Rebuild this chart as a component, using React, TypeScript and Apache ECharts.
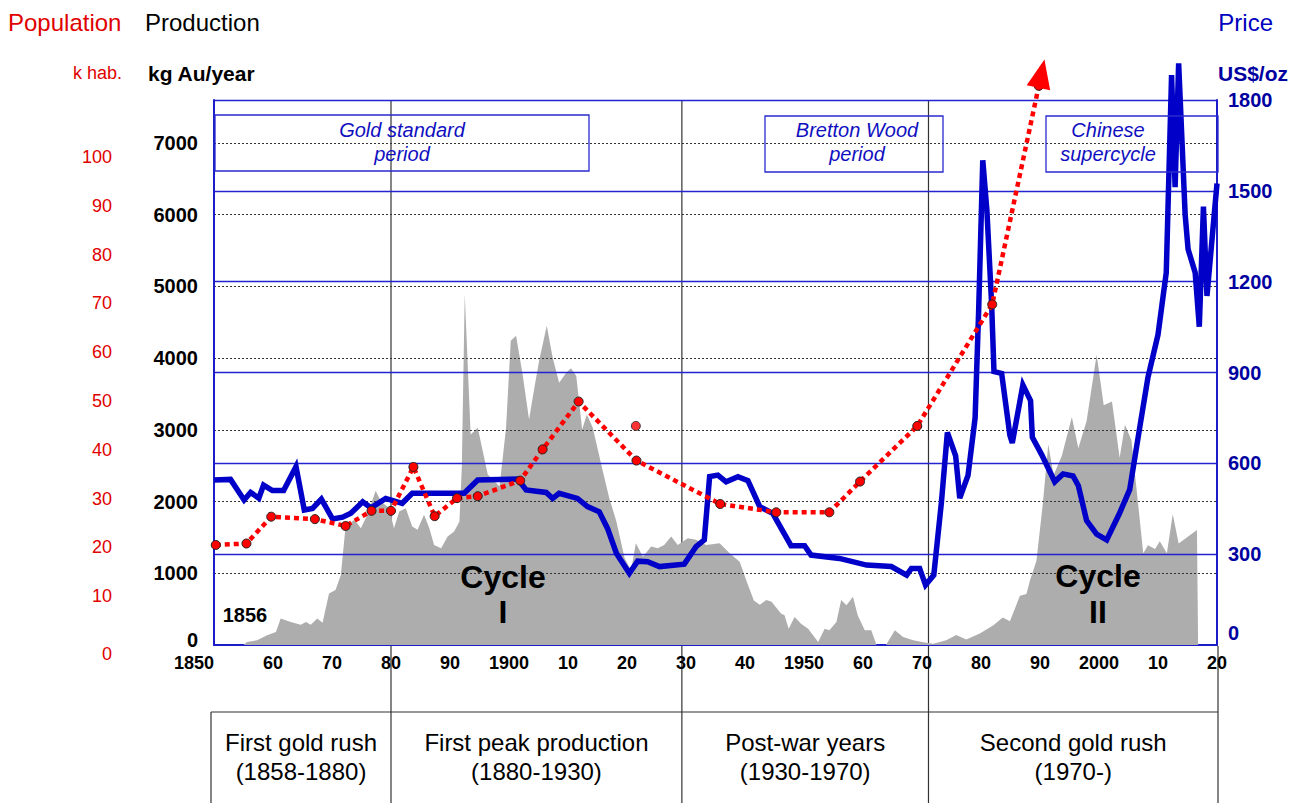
import React, { useEffect, useRef } from 'react';
import * as echarts from 'echarts';

// ---------- DATA ----------
const prodYears = [1850, 1855, 1855.6, 1857.3, 1859, 1860.5, 1861.3, 1863, 1864.7, 1865.6, 1866.4, 1867.5, 1868.4, 1869, 1869.5, 1870.6, 1871.5, 1872.3, 1873.8, 1874.9, 1876, 1877.4, 1878.3, 1879.7, 1880.5, 1881.4, 1882.5, 1883.6, 1884.5, 1885.6, 1886.5, 1887.3, 1888.5, 1889.6, 1890.7, 1891.6, 1892, 1892.5, 1893.5, 1894.7, 1896.4, 1898.4, 1899.5, 1900.3, 1901.2, 1902.3, 1903.4, 1904.3, 1905.1, 1906.4, 1907.4, 1908.5, 1909.7, 1910.5, 1911.4, 1912.4, 1913.2, 1914.2, 1915.9, 1917, 1918.2, 1919.6, 1920.7, 1921.5, 1922.7, 1924.1, 1925.2, 1926.3, 1927.5, 1928.6, 1930.3, 1931.7, 1933.4, 1935.7, 1937.4, 1939.1, 1940.3, 1941.5, 1942.5, 1943.6, 1944.5, 1946.1, 1946.7, 1947.4, 1948.4, 1949.5, 1950.7, 1952.4, 1953.5, 1954.3, 1955.5, 1956.3, 1957.2, 1958.3, 1959.1, 1960.3, 1961.4, 1962.3, 1963.9, 1965.4, 1966.8, 1968.5, 1970.7, 1971.9, 1974.1, 1975.8, 1977.5, 1979.8, 1982.1, 1983.7, 1984.9, 1986.6, 1987.7, 1988.3, 1989.4, 1990.5, 1991.4, 1992.3, 1993.7, 1995.4, 1996.5, 1997.9, 1999.6, 2000.8, 2002.2, 2003.5, 2004.4, 2005.5, 2007.5, 2008.3, 2009.5, 2010.3, 2011.5, 2012.5, 2013.5, 2016.6, 2016.8];
const prodValues = [0, 0, 42, 66, 136, 182, 368, 322, 284, 322, 284, 368, 312, 532, 718, 766, 976, 1652, 1746, 1628, 1816, 2152, 2002, 1908, 1628, 1862, 1908, 1652, 1606, 1816, 1628, 1396, 1348, 1512, 1582, 1722, 2468, 4896, 2936, 3028, 2376, 2212, 3028, 4242, 4312, 3776, 3146, 3588, 3962, 4452, 4008, 3658, 3798, 3860, 3752, 3006, 3216, 3028, 2422, 2048, 1722, 1208, 1046, 1418, 1232, 1372, 1348, 1396, 1512, 1396, 1488, 1466, 1396, 1418, 1278, 1162, 882, 620, 560, 626, 602, 438, 416, 228, 392, 298, 228, 42, 228, 206, 322, 626, 556, 672, 416, 206, 206, 0, 0, 206, 112, 66, 32, 18, 66, 140, 76, 160, 276, 384, 330, 686, 710, 898, 1174, 1986, 2800, 2368, 2638, 3178, 2744, 3124, 4046, 3342, 3396, 2610, 3070, 2854, 1280, 1392, 1338, 1446, 1280, 1822, 1414, 1604, 0];

const priceYears = [1850, 1852.8, 1855.1, 1856.2, 1857.6, 1858.4, 1859.9, 1861.8, 1863.9, 1865.3, 1866.7, 1868.2, 1870.1, 1871.8, 1873.2, 1875.2, 1876.6, 1879.1, 1881.9, 1883.6, 1892.4, 1894.7, 1901.5, 1902.9, 1906.3, 1907.4, 1908.5, 1911.6, 1913.3, 1915.3, 1916.7, 1918.2, 1920.4, 1921.8, 1923.5, 1925.5, 1929.7, 1931.7, 1933.1, 1934, 1935.4, 1936.8, 1938.8, 1940.5, 1942.5, 1944.7, 1947.8, 1950.1, 1951.2, 1956, 1960.6, 1964.8, 1967.4, 1968.2, 1969.6, 1970.6, 1972, 1973.3, 1974.3, 1975.7, 1976.4, 1977.8, 1979, 1979.6, 1980.3, 1981, 1981.8, 1982.2, 1983.5, 1984.9, 1985.3, 1987.1, 1988.4, 1988.7, 1990.3, 1992.5, 1993.9, 1995.6, 1996.5, 1997.9, 1999.6, 2001.3, 2003.5, 2005.2, 2006.9, 2008.3, 2010, 2011.4, 2012.3, 2012.9, 2013.5, 2014.6, 2015.1, 2016.3, 2017, 2017.7, 2018.3, 2020];
const priceValues = [545, 547, 479, 504, 485, 528, 510, 510, 589, 446, 451, 482, 416, 422, 435, 473, 453, 484, 468, 501, 501, 545, 548, 512, 504, 484, 501, 484, 457, 440, 385, 303, 237, 277, 275, 259, 267, 325, 347, 556, 561, 539, 556, 543, 457, 435, 328, 328, 297, 286, 264, 259, 231, 253, 253, 198, 231, 473, 702, 625, 485, 560, 750, 1103, 1601, 1435, 1127, 903, 897, 692, 667, 859, 807, 686, 628, 539, 565, 558, 526, 411, 366, 347, 436, 513, 718, 884, 1025, 1230, 1882, 1512, 1921, 1422, 1307, 1230, 1051, 1448, 1153, 1524];

const popYears = [1850.3, 1855.5, 1859.7, 1867.1, 1872.3, 1876.7, 1880, 1883.8, 1887.4, 1891.2, 1894.7, 1901.9, 1905.7, 1911.8, 1921.6, 1935.8, 1945.3, 1954.3, 1959.5, 1969.2, 1981.9, 1989.8];
const popValues = [20.5, 20.8, 26.3, 25.8, 24.4, 27.5, 27.5, 36.5, 26.4, 30.1, 30.5, 33.7, 40.1, 49.9, 37.8, 28.9, 27.2, 27.2, 33.5, 44.9, 69.8, 114.6];
const popOutlierYears = [1921.5];
const popOutlierValues = [44.9];

const periodBounds = [1880, 1929.3, 1971.1];
const periodNames = ['First gold rush', 'First peak production', 'Post-war years', 'Second gold rush'];
const periodRanges = ['(1858-1880)', '(1880-1930)', '(1930-1970)', '(1970-)'];

const FONT = "'Liberation Sans', Arial, Helvetica, sans-serif";
const BLUE = '#0000c8';
const AXIS_BLUE = '#1c1cc8';
const RED = '#ff0000';

function txt(text: string, x: number, y: number, font: string, fill: string, align = 'center', z = 10) {
  return {
    type: 'text', x, y, z, silent: true,
    style: { text, font, fill, align, textAlign: align, verticalAlign: 'middle', textVerticalAlign: 'middle' },
  };
}

export default function App() {
  const ref = useRef<HTMLDivElement>(null);
  useEffect(() => {
    const chart = echarts.init(ref.current!, null, { renderer: 'svg' });
    const option: any = {
      animation: false,
      textStyle: { fontFamily: FONT },
      grid: { left: 214, right: 79, top: 100, bottom: 158 },
      xAxis: {
        type: 'value', min: 1850, max: 2020, interval: 10,
        axisLine: { onZero: false, lineStyle: { color: AXIS_BLUE, width: 2 } },
        axisTick: { show: false }, splitLine: { show: false },
        axisLabel: {
          color: '#000', fontWeight: 'bold', fontSize: 18, margin: 9, alignMinLabel: 'right', fontFamily: FONT,
          formatter: (v: number) => (v % 50 === 0 ? String(v) : String(v % 100).padStart(2, '0')),
        },
      },
      yAxis: [
        {
          type: 'value', position: 'left', min: 0, max: 7600, interval: 1000, z: 2,
          axisLine: { show: true, lineStyle: { color: AXIS_BLUE, width: 2 } },
          axisTick: { show: false },
          axisLabel: {
            color: '#000', fontWeight: 'bold', fontSize: 20, margin: 16, fontFamily: FONT,
            formatter: (v: number) => (v === 0 ? '{z|0}' : v % 1000 === 0 ? String(v) : ''),
            rich: { z: { fontWeight: 'bold', fontSize: 20, color: '#000', fontFamily: FONT, padding: [0, 0, 10, 0] } },
          },
          splitLine: { show: true, showMinLine: false, showMaxLine: false, lineStyle: { color: '#333', type: [2, 2], width: 1 } },
        },
        {
          type: 'value', position: 'right', min: 0, max: 1800, interval: 300, z: 2,
          axisLine: { show: true, lineStyle: { color: AXIS_BLUE, width: 2 } },
          axisTick: { show: false },
          axisLabel: {
            color: '#0000a0', fontWeight: 'bold', fontSize: 20, margin: 11, fontFamily: FONT,
            formatter: (v: number) => (v === 0 ? '{z|0}' : String(v)),
            rich: { z: { fontWeight: 'bold', fontSize: 20, color: '#0000a0', fontFamily: FONT, padding: [0, 0, 24, 0] } },
          },
          splitLine: { show: true, showMinLine: false, lineStyle: { color: '#2323d2', width: 1.3 } },
        },
        {
          type: 'value', position: 'left', offset: 100, min: 0, max: 111.7, interval: 10, z: 2,
          axisLine: { show: false }, axisTick: { show: false }, splitLine: { show: false },
          axisLabel: {
            color: '#e00000', fontSize: 18, margin: 2, fontFamily: FONT,
            formatter: (v: number) => (v === 0 ? '{z|0}' : v <= 100 && v % 10 === 0 ? String(v) : ''),
            rich: { z: { fontSize: 18, color: '#e00000', fontFamily: FONT, padding: [18, 0, 0, 0] } },
          },
        },
      ],
      series: [
        {
          type: 'line', name: 'Production', yAxisIndex: 0, z: 1, silent: true,
          data: prodYears.map((y, i) => [y, prodValues[i]]),
          symbol: 'none', lineStyle: { width: 0 },
          areaStyle: { color: '#adadad', opacity: 1, origin: 'start' },
        },
        {
          type: 'line', name: 'Price', yAxisIndex: 1, z: 3, clip: false,
          data: priceYears.map((y, i) => [y, priceValues[i]]),
          symbol: 'none', lineStyle: { color: BLUE, width: 5.5, join: 'miter' },
        },
        {
          type: 'line', name: 'Population', yAxisIndex: 2, z: 4, clip: false,
          data: popYears.map((y, i) => [y, popValues[i]]),
          symbol: 'circle', symbolSize: 9, showAllSymbol: true,
          itemStyle: { color: RED, borderColor: '#222', borderWidth: 1 },
          lineStyle: { color: RED, width: 4.5, type: [5, 4] },
        },
        {
          type: 'scatter', name: 'Population outlier', yAxisIndex: 2, z: 4,
          data: popOutlierYears.map((y, i) => [y, popOutlierValues[i]]),
          symbol: 'circle', symbolSize: 9,
          itemStyle: { color: RED, borderColor: '#222', borderWidth: 1 },
        },
      ],
    };
    chart.setOption(option);

    const xPx = (year: number) => chart.convertToPixel({ xAxisIndex: 0 }, year) as unknown as number;
    const bounds = periodBounds.map(xPx);
    const tableLeft = 211;
    const tableRight = xPx(2020) + 1;
    const cols = [tableLeft, ...bounds, tableRight];

    // arrow head at the end of population line
    const n = popYears.length;
    const p1 = chart.convertToPixel({ seriesIndex: 2 }, [popYears[n - 2], popValues[n - 2]]) as number[];
    const p2 = chart.convertToPixel({ seriesIndex: 2 }, [popYears[n - 1], popValues[n - 1]]) as number[];
    const dx = p2[0] - p1[0], dy = p2[1] - p1[1];
    const len = Math.hypot(dx, dy);
    const ux = dx / len, uy = dy / len;
    const bx = p2[0] - ux * 2, by = p2[1] - uy * 2;
    const tip = [p2[0] + ux * 27, p2[1] + uy * 27];
    const hw = 12;
    const arrow = {
      type: 'polygon', z: 10, silent: true,
      shape: { points: [tip, [bx - uy * hw, by + ux * hw], [bx + uy * hw, by - ux * hw]] },
      style: { fill: RED },
    };

    const lineStyle = { stroke: '#333', lineWidth: 1.2 };
    const graphics: any[] = [
      // period dividers
      ...bounds.map((x) => ({ type: 'line', z: 0, silent: true, shape: { x1: x, y1: 100, x2: x, y2: 803 }, style: lineStyle })),
      // table
      { type: 'line', z: 0, silent: true, shape: { x1: tableLeft, y1: 712, x2: tableRight, y2: 712 }, style: lineStyle },
      { type: 'line', z: 0, silent: true, shape: { x1: tableLeft, y1: 712, x2: tableLeft, y2: 803 }, style: lineStyle },
      { type: 'line', z: 0, silent: true, shape: { x1: tableRight, y1: 646, x2: tableRight, y2: 803 }, style: lineStyle },
      ...periodNames.map((t, i) => txt(t, (cols[i] + cols[i + 1]) / 2, 742, `24px ${FONT}`, '#000')),
      ...periodRanges.map((t, i) => txt(t, (cols[i] + cols[i + 1]) / 2, 771, `24px ${FONT}`, '#000')),
      // headers
      txt('Population', 8, 22, `24px ${FONT}`, '#e00000', 'left'),
      txt('Production', 145, 22, `24px ${FONT}`, '#000', 'left'),
      txt('Price', 1273, 22, `24px ${FONT}`, '#0000c0', 'right'),
      txt('k hab.', 122, 73, `18px ${FONT}`, '#e00000', 'right'),
      txt('kg Au/year', 148, 73, `bold 21px ${FONT}`, '#000', 'left'),
      txt('US$/oz', 1218, 73, `bold 21px ${FONT}`, '#0000a0', 'left'),
      // annotation boxes
      { type: 'rect', z: 5, silent: true, shape: { x: 215, y: 115, width: 374, height: 56 }, style: { fill: 'none', stroke: '#2a2ad0', lineWidth: 1.3 } },
      { type: 'rect', z: 5, silent: true, shape: { x: 765, y: 116, width: 178, height: 56 }, style: { fill: 'none', stroke: '#2a2ad0', lineWidth: 1.3 } },
      { type: 'rect', z: 5, silent: true, shape: { x: 1046, y: 116, width: 172, height: 56 }, style: { fill: 'none', stroke: '#2a2ad0', lineWidth: 1.3 } },
      txt('Gold standard', 402, 130, `italic 20px ${FONT}`, '#1010c0'),
      txt('period', 402, 154, `italic 20px ${FONT}`, '#1010c0'),
      txt('Bretton Wood', 857, 130, `italic 20px ${FONT}`, '#1010c0'),
      txt('period', 857, 154, `italic 20px ${FONT}`, '#1010c0'),
      txt('Chinese', 1108, 130, `italic 20px ${FONT}`, '#1010c0'),
      txt('supercycle', 1108, 154, `italic 20px ${FONT}`, '#1010c0'),
      // in-plot labels
      txt('1856', 245, 615, `bold 20px ${FONT}`, '#000'),
      txt('Cycle', 503, 577, `bold 32px ${FONT}`, '#000'),
      txt('I', 503, 612, `bold 32px ${FONT}`, '#000'),
      txt('Cycle', 1098, 576, `bold 32px ${FONT}`, '#000'),
      txt('II', 1098, 612, `bold 32px ${FONT}`, '#000'),
      arrow,
    ];
    chart.setOption({ graphic: graphics });
    return () => chart.dispose();
  }, []);
  return <div ref={ref} style={{ position: 'absolute', left: 0, top: 0, width: 1296, height: 803, background: '#fff' }} />;
}
